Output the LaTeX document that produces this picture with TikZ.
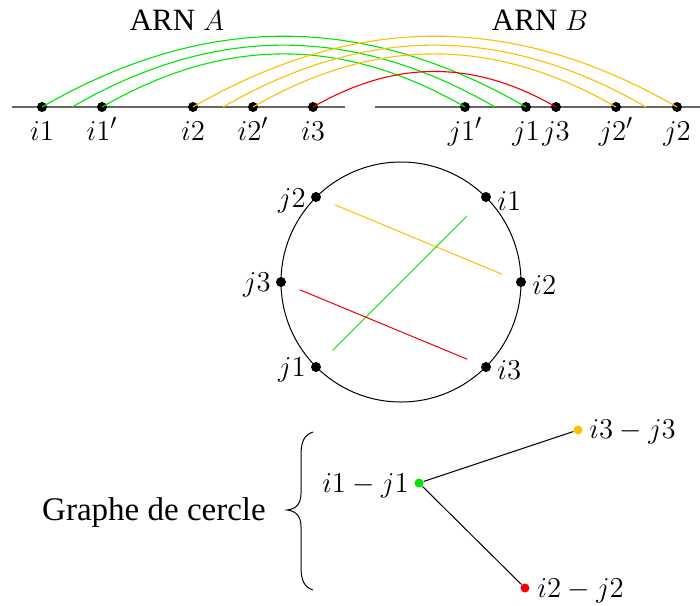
\documentclass[tikz,border=0pt]{standalone}
\usepackage{fontspec}
\setmainfont{Liberation Serif}
\definecolor{cgreen}{RGB}{0,230,0}
\definecolor{cyellow}{RGB}{255,190,0}
\definecolor{cred}{RGB}{240,0,0}
\begin{document}
\begin{tikzpicture}[x=0.5pt,y=-0.5pt,
  font=\fontsize{15.5}{18}\selectfont,
  dotnode/.style={circle,fill=black,inner sep=0pt,minimum size=5pt},
  arcline/.style={line width=0.55pt},
  lbl/.style={inner sep=0pt,anchor=base},
  chord/.style={line width=0.5pt,shorten <=9pt,shorten >=9pt},
  edgeline/.style={line width=0.5pt}]
\useasboundingbox (0,0) rectangle (700,605);
% baselines
\draw[line width=0.7pt,black!60] (12,107) -- (345,107);
\draw[line width=0.7pt,black!60] (375,107) -- (700,107);
% titles
\node[inner sep=0pt] (ta) at (177,20) {ARN $A$};
\node[inner sep=0pt] (tb) at (540,20) {ARN $B$};
% points A
\node[dotnode] (i1) at (42,107) {};
\coordinate (a1) at (72,107);
\node[dotnode] (i1p) at (102,107) {};
\node[dotnode] (i2) at (193,107) {};
\coordinate (a2) at (223,107);
\node[dotnode] (i2p) at (253,107) {};
\node[dotnode] (i3) at (313,107) {};
% points B
\node[dotnode] (j1p) at (465,107) {};
\coordinate (b1) at (495,107);
\node[dotnode] (j1) at (526,107) {};
\node[dotnode] (j3) at (556,107) {};
\node[dotnode] (j2p) at (616,107) {};
\coordinate (b2) at (646,107);
\node[dotnode] (j2) at (677,107) {};
% labels
\node[lbl] (li1) at (42,140) {$i1$};
\node[lbl] (li1p) at (102,140) {$i1'$};
\node[lbl] (li2) at (193,140) {$i2$};
\node[lbl] (li2p) at (253,140) {$i2'$};
\node[lbl] (li3) at (313,140) {$i3$};
\node[lbl] (lj1p) at (465,140) {$j1'$};
\node[lbl] (lj1) at (526,140) {$j1$};
\node[lbl] (lj3) at (556,140) {$j3$};
\node[lbl] (lj2p) at (616,140) {$j2'$};
\node[lbl] (lj2) at (677,140) {$j2$};
% arcs
\draw[arcline,cgreen] (i1.center) to[bend left=30] (j1.center);
\draw[arcline,cgreen] (a1) to[bend left=30] (b1);
\draw[arcline,cgreen] (i1p.center) to[bend left=30] (j1p.center);
\draw[arcline,cyellow] (i2.center) to[bend left=30] (j2.center);
\draw[arcline,cyellow] (a2) to[bend left=30] (b2);
\draw[arcline,cyellow] (i2p.center) to[bend left=30] (j2p.center);
\draw[arcline,cred] (i3.center) to[bend left=30] (j3.center);
% circle
\node[circle,draw,line width=0.5pt,minimum size=120pt,inner sep=0pt] (circ) at (401,282) {};
\node[dotnode] (ci1) at (486,197) {};
\node[dotnode] (ci2) at (521,282) {};
\node[dotnode] (ci3) at (486,367) {};
\node[dotnode] (cj1) at (316,367) {};
\node[dotnode] (cj3) at (281,282) {};
\node[dotnode] (cj2) at (316,197) {};
\node[inner sep=0pt,anchor=west] (lci1) at (497,201) {$i1$};
\node[inner sep=0pt,anchor=west] (lci2) at (532,285) {$i2$};
\node[inner sep=0pt,anchor=west] (lci3) at (497,370) {$i3$};
\node[inner sep=0pt,anchor=east] (lcj1) at (306,370) {$j1$};
\node[inner sep=0pt,anchor=east] (lcj3) at (271,285) {$j3$};
\node[inner sep=0pt,anchor=east] (lcj2) at (306,201) {$j2$};
\draw[chord,cyellow,shorten <=7.5pt,shorten >=7.5pt] (cj2) -- (ci2);
\draw[chord,cgreen,shorten <=11pt,shorten >=9pt] (ci1) -- (cj1);
\draw[chord,cred,shorten <=7.5pt,shorten >=7.5pt] (cj3) -- (ci3);
% circle graph
\node[inner sep=0pt,anchor=base,font=\fontsize{16.5}{19}\selectfont] (title) at (154,520) {Graphe de cercle};
\draw[line width=0.5pt] (313,432) .. controls (304,435) and (301,442) .. (301,455)
  -- (301,493) .. controls (301,504) and (296,509) .. (287,510)
  .. controls (296,511) and (301,516) .. (301,527)
  -- (301,567) .. controls (301,580) and (304,587) .. (313,590);
\node[circle,fill=cgreen,inner sep=0pt,minimum size=4.5pt] (g1) at (419,483) {};
\node[circle,fill=cyellow,inner sep=0pt,minimum size=4.5pt] (g3) at (578,430) {};
\node[circle,fill=cred,inner sep=0pt,minimum size=4.5pt] (g2) at (525,588) {};
\node[inner sep=0pt,anchor=base east] (lg1) at (409,492) {$i1-j1$};
\node[inner sep=0pt,anchor=base west] (lg3) at (589,438) {$i3-j3$};
\node[inner sep=0pt,anchor=base west] (lg2) at (537,597) {$i2-j2$};
\draw[edgeline] (g1) -- (g3);
\draw[edgeline] (g1) -- (g2);
\end{tikzpicture}
\end{document}
